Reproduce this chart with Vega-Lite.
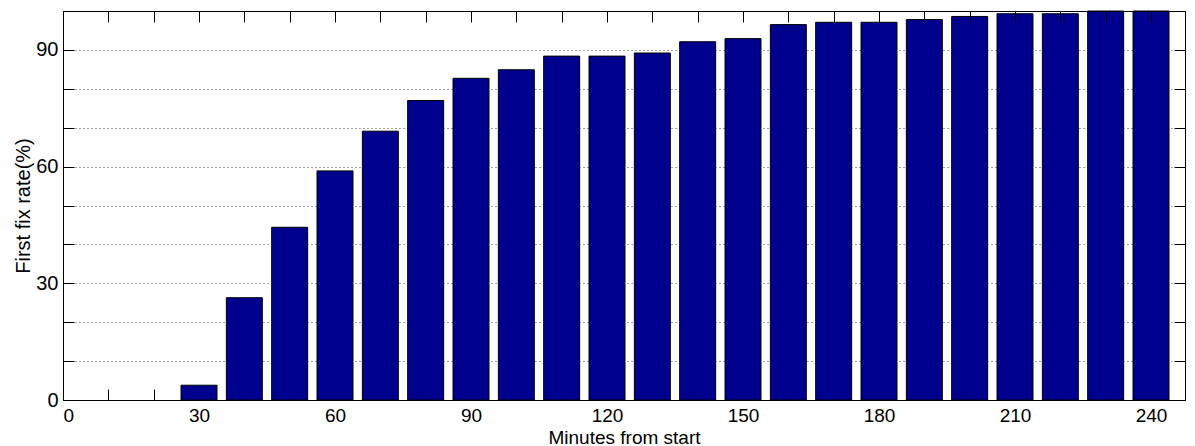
{
  "$schema": "https://vega.github.io/schema/vega-lite/v6.json",
  "width": 1122,
  "height": 389,
  "autosize": "none",
  "padding": {"left": 63, "top": 11, "right": 10, "bottom": 46},
  "background": "white",
  "config": {
    "font": "Liberation Sans",
    "view": {"stroke": "#000", "strokeWidth": 1},
    "axis": {
      "labelFont": "Liberation Sans", "labelFontSize": 20, "labelColor": "#000",
      "titleFont": "Liberation Sans", "titleFontSize": 20, "titleFontWeight": "normal", "titleColor": "#000",
      "domainColor": "#000", "tickColor": "#000", "tickWidth": 1
    }
  },
  "data": {"values": [
    {"minutes": 30, "rate": 3.8},
    {"minutes": 40, "rate": 26.3},
    {"minutes": 50, "rate": 44.4},
    {"minutes": 60, "rate": 58.9},
    {"minutes": 70, "rate": 69.1},
    {"minutes": 80, "rate": 77.0},
    {"minutes": 90, "rate": 82.7},
    {"minutes": 100, "rate": 84.9},
    {"minutes": 110, "rate": 88.4},
    {"minutes": 120, "rate": 88.4},
    {"minutes": 130, "rate": 89.2},
    {"minutes": 140, "rate": 92.1},
    {"minutes": 150, "rate": 92.9},
    {"minutes": 160, "rate": 96.5},
    {"minutes": 170, "rate": 97.1},
    {"minutes": 180, "rate": 97.1},
    {"minutes": 190, "rate": 97.8},
    {"minutes": 200, "rate": 98.6},
    {"minutes": 210, "rate": 99.3},
    {"minutes": 220, "rate": 99.3},
    {"minutes": 230, "rate": 100},
    {"minutes": 240, "rate": 100}
  ]},
  "layer": [
    {
      "mark": {"type": "bar", "size": 36, "color": "#00008F", "stroke": "#000", "strokeWidth": 1},
      "encoding": {
        "x": {
          "field": "minutes", "type": "quantitative",
          "scale": {"domain": [0, 247.5], "nice": false, "zero": false, "padding": 0},
          "axis": {
            "orient": "bottom",
            "values": [0, 10, 20, 30, 40, 50, 60, 70, 80, 90, 100, 110, 120, 130, 140, 150, 160, 170, 180, 190, 200, 210, 220, 230, 240],
            "labelExpr": "datum.value % 30 === 0 ? datum.label : ''",
            "labelFontSize": 19, "labelBaseline": "alphabetic", "labelPadding": 32,
            "tickSize": -11, "grid": false,
            "title": "Minutes from start", "titleFontSize": 19,
            "titleBaseline": "alphabetic", "titleY": 43, "titleAnchor": "middle"
          }
        },
        "y": {
          "field": "rate", "type": "quantitative",
          "scale": {"domain": [0, 100], "nice": false, "padding": 0},
          "axis": {
            "orient": "left",
            "values": [0, 10, 20, 30, 40, 50, 60, 70, 80, 90, 100],
            "labelExpr": "datum.value % 30 === 0 ? datum.label : ''",
            "tickSize": -11, "labelPadding": 16, "grid": true,
            "gridDash": [1, 3], "gridColor": "#444", "gridWidth": 1,
            "title": "First fix rate(%)", "titlePadding": 2
          }
        }
      }
    },
    {
      "mark": {"type": "bar", "size": 36, "opacity": 0},
      "encoding": {
        "x": {
          "field": "minutes", "type": "quantitative",
          "axis": {
            "orient": "top", "labels": false, "title": null, "grid": false, "zindex": 1,
            "values": [0, 10, 20, 30, 40, 50, 60, 70, 80, 90, 100, 110, 120, 130, 140, 150, 160, 170, 180, 190, 200, 210, 220, 230, 240],
            "tickSize": -11
          }
        },
        "y": {
          "field": "rate", "type": "quantitative",
          "axis": {
            "orient": "right", "labels": false, "title": null, "grid": false, "zindex": 1,
            "values": [0, 10, 20, 30, 40, 50, 60, 70, 80, 90, 100],
            "tickSize": -11
          }
        }
      }
    }
  ],
  "resolve": {"axis": {"x": "independent", "y": "independent"}}
}
